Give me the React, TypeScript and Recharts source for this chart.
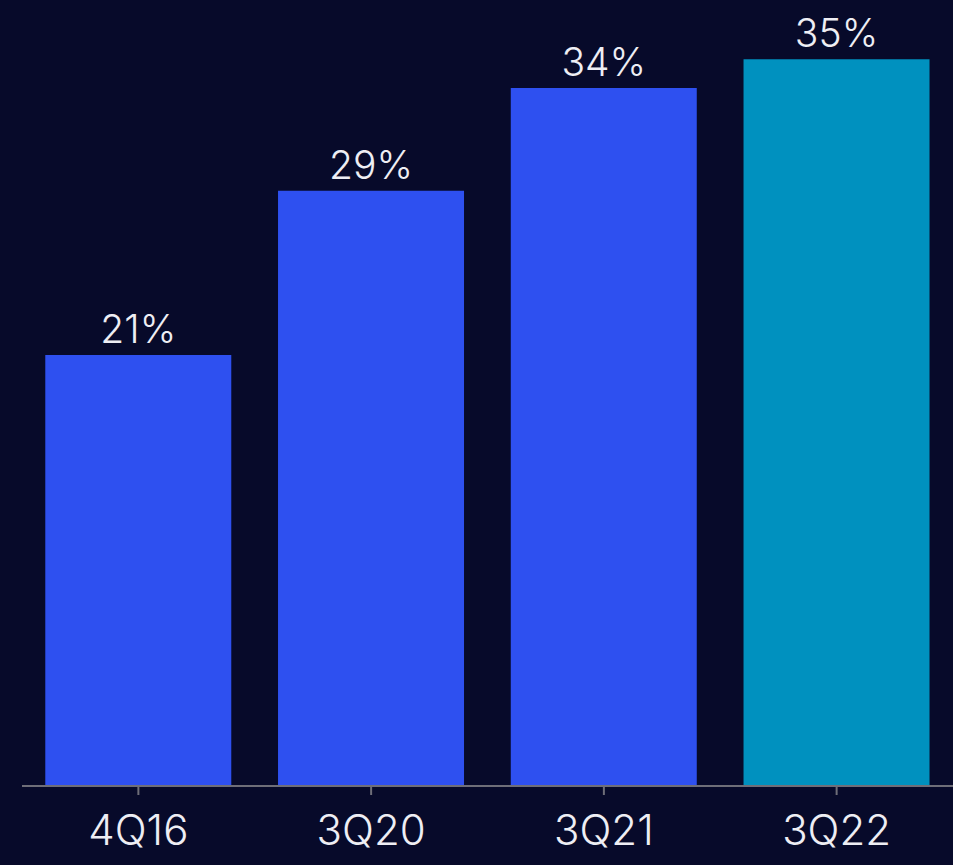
import { BarChart, Bar, XAxis, YAxis, Cell, LabelList } from "recharts";

const quarters = ["4Q16", "3Q20", "3Q21", "3Q22"];
const shares = [21, 29, 34, 35.4];
const barColors = ["#2e50f0", "#2e50f0", "#2e50f0", "#0091bf"];

const data = quarters.map((q, i) => ({ quarter: q, share: shares[i] }));

const FONT = "Inter, 'Noto Sans', sans-serif";

export default function App() {
  return (
    <div
      style={{
        position: "fixed",
        top: 0,
        left: 0,
        width: 953,
        height: 865,
        background: "#070a2a",
      }}
    >
      <BarChart
        width={953}
        height={865}
        data={data}
        margin={{ top: 6, right: 0, bottom: 0, left: 22 }}
        barCategoryGap="10%"
      >
        <XAxis
          dataKey="quarter"
          height={79}
          axisLine={{ stroke: "#6e6e78", strokeWidth: 2 }}
          tickLine={{ stroke: "#6e6e78", strokeWidth: 2 }}
          tickSize={9}
          tickMargin={20}
          tick={{ fill: "#eeeef4", fontSize: 42, fontFamily: FONT, fontWeight: 300 }}
        />
        <YAxis hide domain={[0, 38]} />
        <Bar dataKey="share" isAnimationActive={false}>
          {data.map((d, i) => (
            <Cell key={d.quarter} fill={barColors[i]} />
          ))}
          <LabelList
            dataKey="share"
            position="top"
            offset={12}
            formatter={(v: number) => `${Math.round(v)}%`}
            style={{ fill: "#eeeef4", fontSize: 39, fontFamily: FONT, fontWeight: 300 }}
          />
        </Bar>
      </BarChart>
    </div>
  );
}
